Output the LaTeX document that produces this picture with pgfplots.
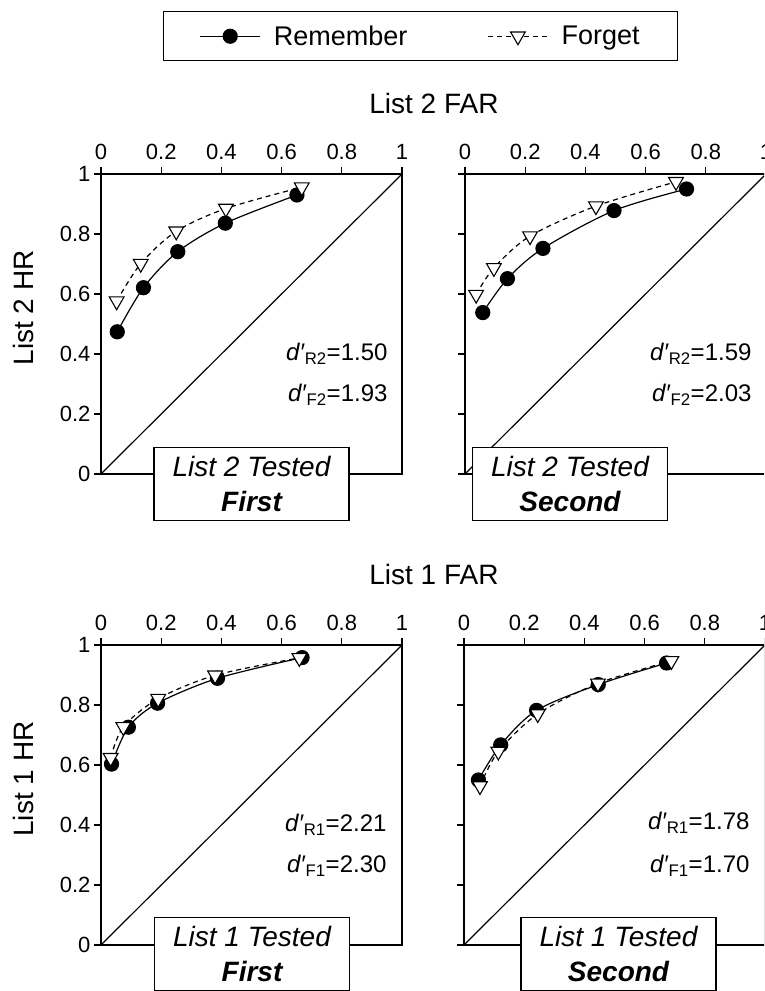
\documentclass[border=0pt]{standalone}
\usepackage{fontspec}
\setmainfont{Liberation Sans}
\usepackage{pgfplots}
\pgfplotsset{compat=1.18}

\newcommand\bigf{\fontsize{28}{35}\selectfont}
\newcommand\midf{\fontsize{24}{28}\selectfont}

\pgfplotsset{
  roc/.style={
    scale only axis, width=301pt, height=300pt,
    xmin=0, xmax=1, ymin=0, ymax=1,
    xtick={0,0.2,0.4,0.6,0.8,1}, ytick={0,0.2,0.4,0.6,0.8,1},
    xtick pos=top, xticklabel pos=top, ytick pos=left,
    tick align=outside, major tick length=7pt,
    axis line style={line width=1.3pt},
    every tick/.style={black, line width=1.2pt},
    tick label style={font=\fontsize{22}{26}\selectfont},
    xticklabel style={yshift=4pt},
    /pgf/number format/assume math mode=true,
    legend image code/.code={\draw[mark repeat=2,mark phase=2,##1] plot coordinates {(0pt,0pt) (30pt,0pt) (60pt,0pt)};},
  },
  remember/.style={black, line width=1.2pt, smooth, mark=*, mark size=7pt, mark options={solid, fill=black}},
  forget/.style={black, line width=1.2pt, smooth, dash pattern=on 5pt off 4pt, mark=triangle*, mark size=8.5pt, mark options={solid, fill=white, rotate=180, line width=1.1pt}},
  diag/.style={black, line width=1.2pt, forget plot},
}

\begin{document}
\begin{tikzpicture}[x=1pt,y=1pt]
\path[use as bounding box] (0,0) rectangle (764,991);
\clip (0,0) rectangle (764,991);

% List 2, tested first
\begin{axis}[roc, at={(101pt,517pt)}, anchor=south west,
  legend columns=2,
  legend style={at={(0.206,1.543)}, anchor=north west, draw=black, line width=1.2pt,
    font=\fontsize{27}{33}\selectfont, inner xsep=36pt, inner ysep=12pt,
    /tikz/every odd column/.append style={column sep=11pt},
    /tikz/every even column/.append style={column sep=78pt}}]
\addplot[diag] coordinates {(0,0) (1,1)};
\addplot[remember] coordinates {(0.054,0.474) (0.141,0.621) (0.255,0.741) (0.413,0.836) (0.651,0.930)};
\addlegendentry{Remember}
\addplot[forget] coordinates {(0.052,0.576) (0.132,0.701) (0.250,0.809) (0.415,0.885) (0.667,0.956)};
\addlegendentry{Forget}
\end{axis}

% List 2, tested second
\begin{axis}[roc, at={(465pt,517pt)}, anchor=south west, yticklabels={}]
\addplot[diag] coordinates {(0,0) (1,1)};
\addplot[remember] coordinates {(0.059,0.538) (0.141,0.651) (0.259,0.752) (0.495,0.878) (0.736,0.950)};
\addplot[forget] coordinates {(0.037,0.598) (0.096,0.687) (0.216,0.793) (0.435,0.893) (0.701,0.974)};
\end{axis}

% List 1, tested first
\begin{axis}[roc, at={(101pt,46pt)}, anchor=south west]
\addplot[diag] coordinates {(0,0) (1,1)};
\addplot[remember] coordinates {(0.035,0.603) (0.091,0.726) (0.188,0.806) (0.387,0.889) (0.668,0.958)};
\addplot[forget] coordinates {(0.032,0.624) (0.074,0.727) (0.190,0.821) (0.379,0.899) (0.659,0.957)};
\end{axis}

% List 1, tested second
\begin{axis}[roc, at={(464pt,46pt)}, anchor=south west, yticklabels={}]
\addplot[diag] coordinates {(0,0) (1,1)};
\addplot[remember] coordinates {(0.048,0.550) (0.122,0.667) (0.241,0.782) (0.446,0.868) (0.673,0.940)};
\addplot[forget] coordinates {(0.053,0.530) (0.114,0.645) (0.245,0.770) (0.445,0.872) (0.689,0.947)};
\end{axis}

% titles and axis labels
\node[font=\bigf, anchor=base] at (434,877) {List 2 FAR};
\node[font=\bigf, anchor=base] at (434,406) {List 1 FAR};
\node[font=\bigf, rotate=90] at (23,683) {List 2 HR};
\node[font=\bigf, rotate=90] at (23,212) {List 1 HR};

% d' values
\node[font=\midf, anchor=base east] at (391,630) {\textit{d′}\textsubscript{R2}=1.50};
\node[font=\midf, anchor=base east] at (391,589) {\textit{d′}\textsubscript{F2}=1.93};
\node[font=\midf, anchor=base east] at (755,630) {\textit{d′}\textsubscript{R2}=1.59};
\node[font=\midf, anchor=base east] at (755,589) {\textit{d′}\textsubscript{F2}=2.03};
\node[font=\midf, anchor=base east] at (390,159) {\textit{d′}\textsubscript{R1}=2.21};
\node[font=\midf, anchor=base east] at (390,118) {\textit{d′}\textsubscript{F1}=2.30};
\node[font=\midf, anchor=base east] at (753,161) {\textit{d′}\textsubscript{R1}=1.78};
\node[font=\midf, anchor=base east] at (753,118) {\textit{d′}\textsubscript{F1}=1.70};

% condition boxes
\tikzset{cond/.style={draw=black, line width=1.3pt, fill=white, minimum width=195pt, minimum height=73pt,
  inner sep=0pt, align=center, anchor=north, font=\bigf}}
\node[cond] at (251.5,544) {\itshape List 2 Tested\\\bfseries\itshape First};
\node[cond] at (570,544) {\itshape List 2 Tested\\\bfseries\itshape Second};
\node[cond] at (252,74) {\itshape List 1 Tested\\\bfseries\itshape First};
\node[cond] at (618.5,74) {\itshape List 1 Tested\\\bfseries\itshape Second};
\end{tikzpicture}
\end{document}
